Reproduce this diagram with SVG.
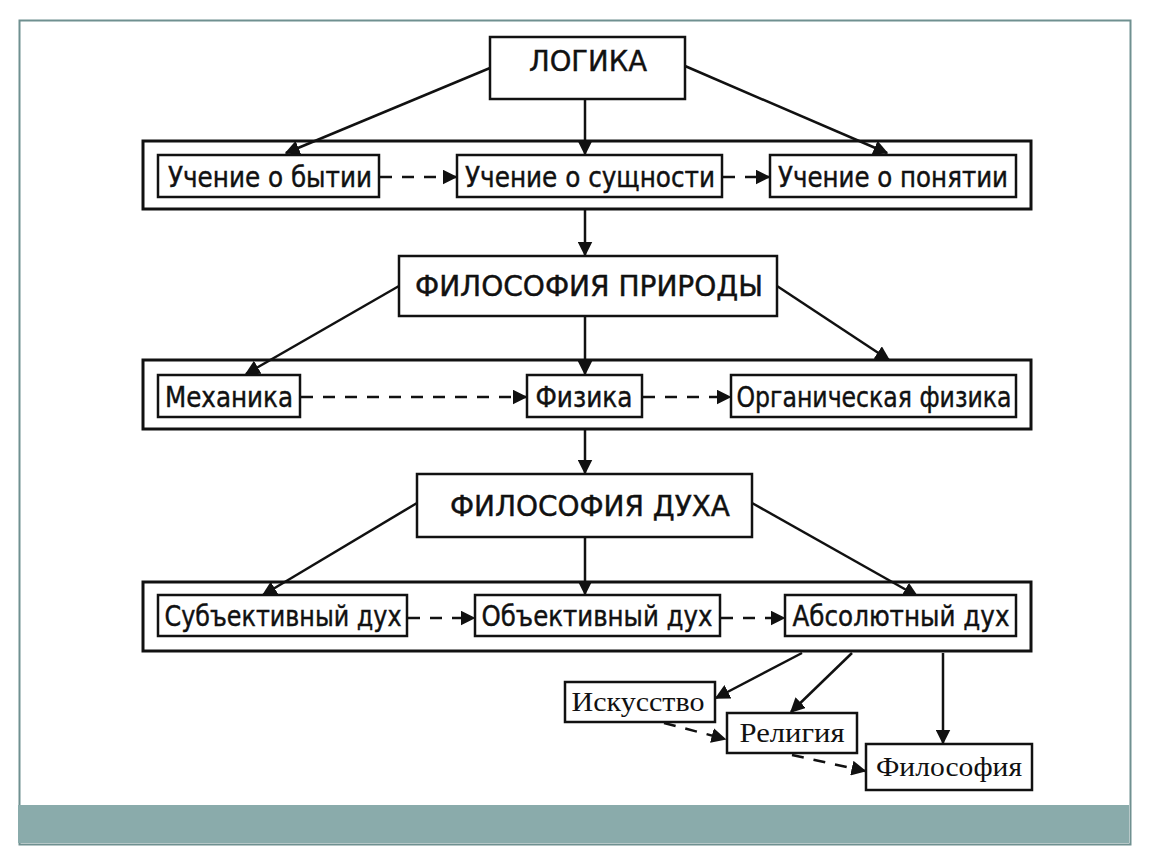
<svg xmlns="http://www.w3.org/2000/svg" width="1150" height="864" viewBox="0 0 1150 864">
<style>
.frame{fill:none;stroke:#6f9090;stroke-width:2}
.band{fill:#8aabab}
.box{fill:#fff;stroke:#111;stroke-width:2.5}
.outer{fill:none;stroke:#111;stroke-width:3}
.t{font-family:"Liberation Sans Narrow","DejaVu Sans Condensed","Liberation Sans",sans-serif;font-size:28px;fill:#111;stroke:#111;stroke-width:0.4;text-anchor:middle}
.s{font-family:"Liberation Serif","DejaVu Serif",serif;font-size:28px;fill:#111;text-anchor:middle}
.c{stroke:#111;stroke-width:2.5;fill:none}
.d{stroke:#111;stroke-width:2.5;fill:none;stroke-dasharray:12 10}
</style>
<defs>
<marker id="ah" viewBox="0 0 10 10" refX="9" refY="5" markerWidth="6" markerHeight="6" orient="auto" markerUnits="strokeWidth">
<path d="M0,0 L10,5 L0,10 z" fill="#111"/>
</marker>
</defs>
<rect width="1150" height="864" fill="#fff"/>
<rect class="frame" x="19.5" y="20.5" width="1111" height="824"/>
<rect class="band" x="18" y="805" width="1111" height="38"/>

<g id="outer1"><rect class="outer" x="143" y="141" width="888" height="68"/></g>
<g id="outer2"><rect class="outer" x="143" y="360" width="888" height="69"/></g>
<g id="outer3"><rect class="outer" x="143" y="582" width="888" height="69"/></g>

<g id="connectors">
<line class="c" x1="490" y1="68" x2="286" y2="153" marker-end="url(#ah)"/>
<line class="c" x1="585" y1="99" x2="585" y2="154" marker-end="url(#ah)"/>
<line class="c" x1="685" y1="66" x2="887" y2="153" marker-end="url(#ah)"/>
<line class="d" x1="380" y1="177" x2="456" y2="177" marker-end="url(#ah)"/>
<line class="d" x1="723" y1="177" x2="769" y2="177" marker-end="url(#ah)"/>
<line class="c" x1="585" y1="209" x2="585" y2="255" marker-end="url(#ah)"/>
<line class="c" x1="399" y1="286" x2="246" y2="374" marker-end="url(#ah)"/>
<line class="c" x1="585" y1="316" x2="585" y2="374" marker-end="url(#ah)"/>
<line class="c" x1="777" y1="286" x2="889" y2="360" marker-end="url(#ah)"/>
<line class="d" x1="301" y1="397" x2="526" y2="397" marker-end="url(#ah)"/>
<line class="d" x1="643" y1="397" x2="730" y2="397" marker-end="url(#ah)"/>
<line class="c" x1="585" y1="429" x2="585" y2="473" marker-end="url(#ah)"/>
<line class="c" x1="417" y1="503" x2="263" y2="595" marker-end="url(#ah)"/>
<line class="c" x1="585" y1="537" x2="585" y2="594" marker-end="url(#ah)"/>
<line class="c" x1="752" y1="503" x2="917" y2="596" marker-end="url(#ah)"/>
<line class="d" x1="408" y1="618" x2="474" y2="618" marker-end="url(#ah)"/>
<line class="d" x1="721" y1="618" x2="784" y2="618" marker-end="url(#ah)"/>
<line class="c" x1="802" y1="653" x2="716" y2="698" marker-end="url(#ah)"/>
<line class="c" x1="852" y1="653" x2="791" y2="712" marker-end="url(#ah)"/>
<line class="c" x1="943" y1="653" x2="943" y2="743" marker-end="url(#ah)"/>
<line class="d" x1="664" y1="723" x2="725" y2="739" marker-end="url(#ah)"/>
<line class="d" x1="792" y1="755" x2="865" y2="771" marker-end="url(#ah)"/>
</g>

<g id="logika"><rect class="box" x="490" y="37" width="195" height="62"/><text class="t" x="588" y="71" textLength="118" lengthAdjust="spacingAndGlyphs">ЛОГИКА</text></g>
<g id="bytie"><rect class="box" x="158" y="155" width="221" height="42"/><text class="t" x="270" y="187" textLength="204" lengthAdjust="spacingAndGlyphs">Учение о бытии</text></g>
<g id="sushnost"><rect class="box" x="457" y="155" width="265" height="42"/><text class="t" x="590" y="187" textLength="250" lengthAdjust="spacingAndGlyphs">Учение о сущности</text></g>
<g id="ponyatie"><rect class="box" x="770" y="155" width="246" height="42"/><text class="t" x="893" y="187" textLength="230" lengthAdjust="spacingAndGlyphs">Учение о понятии</text></g>

<g id="priroda"><rect class="box" x="399" y="256" width="378" height="60"/><text class="t" x="589" y="296" textLength="348" lengthAdjust="spacingAndGlyphs">ФИЛОСОФИЯ ПРИРОДЫ</text></g>
<g id="mehanika"><rect class="box" x="158" y="375" width="142" height="42"/><text class="t" x="229" y="407" textLength="128" lengthAdjust="spacingAndGlyphs">Механика</text></g>
<g id="fizika"><rect class="box" x="527" y="375" width="115" height="42"/><text class="t" x="584" y="407" textLength="97" lengthAdjust="spacingAndGlyphs">Физика</text></g>
<g id="organ"><rect class="box" x="731" y="375" width="285" height="42"/><text class="t" x="874" y="407" textLength="275" lengthAdjust="spacingAndGlyphs">Органическая физика</text></g>

<g id="duh"><rect class="box" x="417" y="474" width="335" height="63"/><text class="t" x="590" y="516" textLength="280" lengthAdjust="spacingAndGlyphs">ФИЛОСОФИЯ ДУХА</text></g>
<g id="subj"><rect class="box" x="158" y="595" width="249" height="41"/><text class="t" x="283" y="626" textLength="237" lengthAdjust="spacingAndGlyphs">Субъективный дух</text></g>
<g id="obj"><rect class="box" x="475" y="595" width="245" height="41"/><text class="t" x="597" y="626" textLength="231" lengthAdjust="spacingAndGlyphs">Объективный дух</text></g>
<g id="abs"><rect class="box" x="785" y="595" width="231" height="41"/><text class="t" x="901" y="626" textLength="217" lengthAdjust="spacingAndGlyphs">Абсолютный дух</text></g>

<g id="iskusstvo"><rect class="box" x="565" y="682" width="150" height="40"/><text class="s" x="638" y="711" textLength="133" lengthAdjust="spacingAndGlyphs">Искусство</text></g>
<g id="religiya"><rect class="box" x="727" y="713" width="130" height="40"/><text class="s" x="792" y="742" textLength="105" lengthAdjust="spacingAndGlyphs">Религия</text></g>
<g id="filosofiya"><rect class="box" x="866" y="744" width="166" height="46"/><text class="s" x="949" y="776" textLength="146" lengthAdjust="spacingAndGlyphs">Философия</text></g>
</svg>
